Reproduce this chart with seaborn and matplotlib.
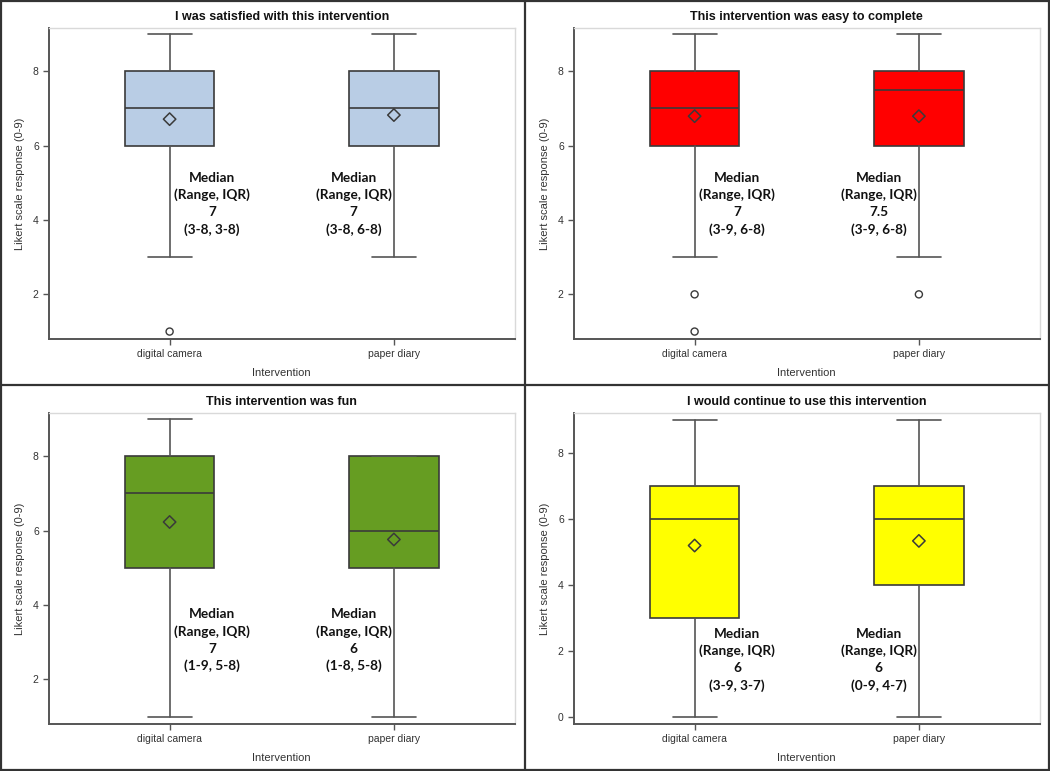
import matplotlib
matplotlib.use("Agg")
import matplotlib.pyplot as plt
from matplotlib.lines import Line2D
import seaborn as sns
import pandas as pd

sns.set_theme(style="white")
plt.rcParams['font.family'] = ['Liberation Sans', 'DejaVu Sans']

# ---------------- data ----------------
categories = ["digital camera", "paper diary"]
titles = ["I was satisfied with this intervention",
          "This intervention was easy to complete",
          "This intervention was fun",
          "I would continue to use this intervention"]
fill_colors = ["#B9CDE5", "#FF0000", "#669D22", "#FFFF00"]

medians = [[7, 7], [7, 7.5], [7, 6], [6, 6]]
q1 = [[6, 6], [6, 6], [5, 5], [3, 4]]
q3 = [[8, 8], [8, 8], [8, 8], [7, 7]]
whisker_low = [[3, 3], [3, 3], [1, 1], [0, 0]]
whisker_high = [[9, 9], [9, 9], [9, 8], [9, 9]]
outliers = [[[1], []], [[2, 1], [2]], [[], []], [[], []]]
means = [[6.71, 6.82], [6.79, 6.79], [6.23, 5.76], [5.19, 5.33]]

annot_median = [["7", "7"], ["7", "7.5"], ["7", "6"], ["6", "6"]]
annot_range_iqr = [["(3-8, 3-8)", "(3-8, 6-8)"],
                   ["(3-9, 6-8)", "(3-9, 6-8)"],
                   ["(1-9, 5-8)", "(1-8, 5-8)"],
                   ["(3-9, 3-7)", "(0-9, 4-7)"]]
annot_y = [5.13, 5.13, 3.75, 2.52]   # vertical anchor of the annotation block
annot_x = [0.19, 0.82]

ylims = [(0.8, 9.16), (0.8, 9.16), (0.8, 9.16), (-0.21, 9.2)]
yticks = [[2, 4, 6, 8], [2, 4, 6, 8], [2, 4, 6, 8], [0, 2, 4, 6, 8]]

# ---------------- layout ----------------
fig = plt.figure(figsize=(10.5, 7.71), dpi=100)
W, H = 1050, 771
ax_w, ax_h = 466.5, 311
panel_origin = [(0, 0), (525, 0), (0, 385), (525, 385)]

edge_dark = "#3a3a3a"
whisk_col = "#555555"

for i in range(4):
    px, py = panel_origin[i]
    left = (px + 48.5) / W
    bottom = 1 - (py + 28 + ax_h) / H
    ax = fig.add_axes([left, bottom, ax_w / W, ax_h / H])

    stats = []
    for j in range(2):
        stats.append(dict(med=medians[i][j], q1=q1[i][j], q3=q3[i][j],
                          whislo=whisker_low[i][j], whishi=whisker_high[i][j],
                          fliers=[], label=categories[j]))
    ax.bxp(stats, positions=[0, 1], widths=0.4, capwidths=0.196,
           patch_artist=True, showfliers=False, manage_ticks=False,
           boxprops=dict(facecolor=fill_colors[i], edgecolor=edge_dark, linewidth=1.2),
           whiskerprops=dict(color=whisk_col, linewidth=1.2),
           capprops=dict(color=whisk_col, linewidth=1.2),
           medianprops=dict(color=edge_dark, linewidth=1.2))

    mean_df = pd.DataFrame({"x": [0, 1], "y": means[i]})
    sns.scatterplot(data=mean_df, x="x", y="y", marker="D", s=40,
                    facecolor="none", edgecolor=edge_dark, linewidth=1.1,
                    ax=ax, zorder=4, legend=False)
    fx, fy = [], []
    for j in range(2):
        for v in outliers[i][j]:
            fx.append(j)
            fy.append(v)
    if fx:
        sns.scatterplot(x=fx, y=fy, marker="o", s=26, facecolor="none",
                        edgecolor=edge_dark, linewidth=1.0, ax=ax,
                        zorder=4, legend=False)

    for j in range(2):
        lines = ["Median", "(Range, IQR)", annot_median[i][j], annot_range_iqr[i][j]]
        for k, t in enumerate(lines):
            ax.annotate(t, xy=(annot_x[j], annot_y[i]), xytext=(0, -12.4 * k),
                        textcoords="offset points", ha="center", va="center",
                        fontsize=9.8, fontweight="bold", color="#111111",
                        family=['Lato', 'DejaVu Sans'])

    ax.set_xlim(-0.54, 1.54)
    ax.set_ylim(*ylims[i])
    ax.set_xticks([0, 1])
    ax.set_xticklabels(categories)
    ax.set_yticks(yticks[i])
    ax.set_xlabel("Intervention", fontsize=8, color="#333333", labelpad=6.5)
    ax.set_ylabel("Likert scale response (0-9)", fontsize=8, color="#333333", labelpad=6)
    ax.set_title(titles[i], fontsize=9, fontweight="bold", color="#111111", pad=6)
    ax.tick_params(axis="both", which="both", length=4, width=1, color=whisk_col,
                   labelsize=7.5, labelcolor="#333333", pad=3, bottom=True, left=True)
    for s in ["left", "bottom"]:
        ax.spines[s].set_color(whisk_col)
        ax.spines[s].set_linewidth(1.4)
    for s in ["top", "right"]:
        ax.spines[s].set_color("#d9d9d9")
        ax.spines[s].set_linewidth(1.0)
    ax.set_facecolor("white")

# panel borders
bc = "#333333"
lw = 1.6
for (x0, y0, x1, y1) in [(0.001, 0, 0.001, 1), (0.999, 0, 0.999, 1),
                         (0, 0.001, 1, 0.001), (0, 0.999, 1, 0.999),
                         (0.5, 0, 0.5, 1), (0, 1 - 385 / H, 1, 1 - 385 / H)]:
    fig.add_artist(Line2D([x0, x1], [y0, y1], color=bc, linewidth=lw,
                          transform=fig.transFigure))

fig.savefig("out.png", dpi=100)
